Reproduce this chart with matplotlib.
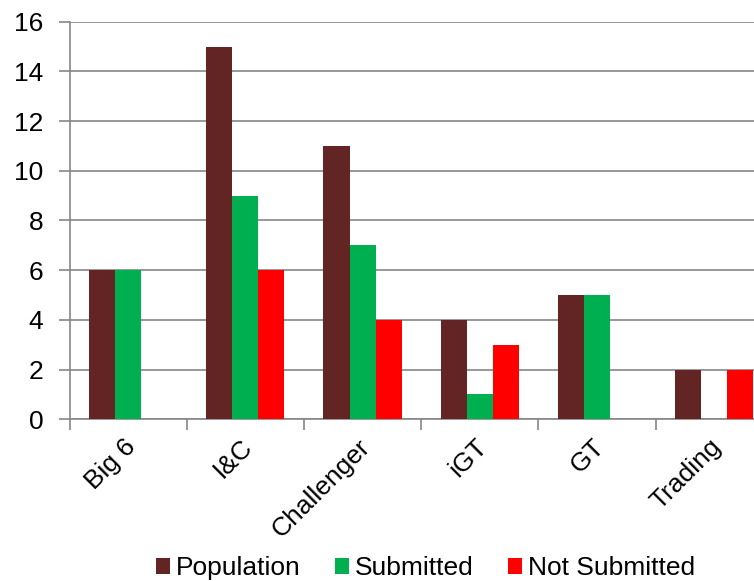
import numpy as np
import matplotlib
matplotlib.use("Agg")
import matplotlib.pyplot as plt
import matplotlib.transforms as mtransforms

categories = ['Big 6', 'I&C', 'Challenger', 'iGT', 'GT', 'Trading']
population = [6, 15, 11, 4, 5, 2]
submitted = [6, 9, 7, 1, 5, 0]
not_submitted = [0, 6, 4, 3, 0, 2]

plt.rcParams['font.family'] = ['Liberation Sans', 'DejaVu Sans']
fs = 19

fig = plt.figure(figsize=(7.54, 5.81), dpi=100)
ax = fig.add_axes([0.0922, 0.2783, 0.9326, 0.6844])

x = np.arange(len(categories))
w = 0.222
ax.bar(x - w, population, w, color='#632523', label='Population', zorder=3)
ax.bar(x, submitted, w, color='#00B050', label='Submitted', zorder=3)
ax.bar(x + w, not_submitted, w, color='#FF0000', label='Not Submitted', zorder=3)

ax.set_xlim(-0.5, len(categories) - 0.5)
ax.set_ylim(0, 16)
ax.set_yticks(range(0, 17, 2))
ax.yaxis.grid(True, color='#868686', linewidth=1.2, zorder=0)

ax.spines['top'].set_visible(False)
ax.spines['right'].set_visible(False)
for s in ['left', 'bottom']:
    ax.spines[s].set_color('#868686')
    ax.spines[s].set_linewidth(1.2)

# category boundary ticks
ax.set_xticks(np.arange(-0.5, len(categories) + 0.5, 1))
ax.set_xticklabels([])
ax.tick_params(axis='x', length=8, color='#868686', width=1.2)
ax.set_xticks(x, minor=True)
ax.set_xticklabels(categories, minor=True, rotation=45, ha='right',
                   rotation_mode='anchor', fontsize=fs)
ax.tick_params(axis='x', which='minor', length=0, pad=11)
ax.tick_params(axis='y', length=8, color='#868686', width=1.2, labelsize=fs, pad=11)

# nudge rotated labels a little to the left
shift = mtransforms.ScaledTranslation(-0.05, 0, fig.dpi_scale_trans)
for lbl in ax.get_xticklabels(minor=True):
    lbl.set_transform(lbl.get_transform() + shift)

fig.legend(loc='center', bbox_to_anchor=(0.5643, 0.022), ncol=3, frameon=False,
           fontsize=fs, handlelength=0.53, handleheight=0.53, handletextpad=0.23,
           columnspacing=1.29, borderpad=0)

fig.savefig('out.png', dpi=100)
